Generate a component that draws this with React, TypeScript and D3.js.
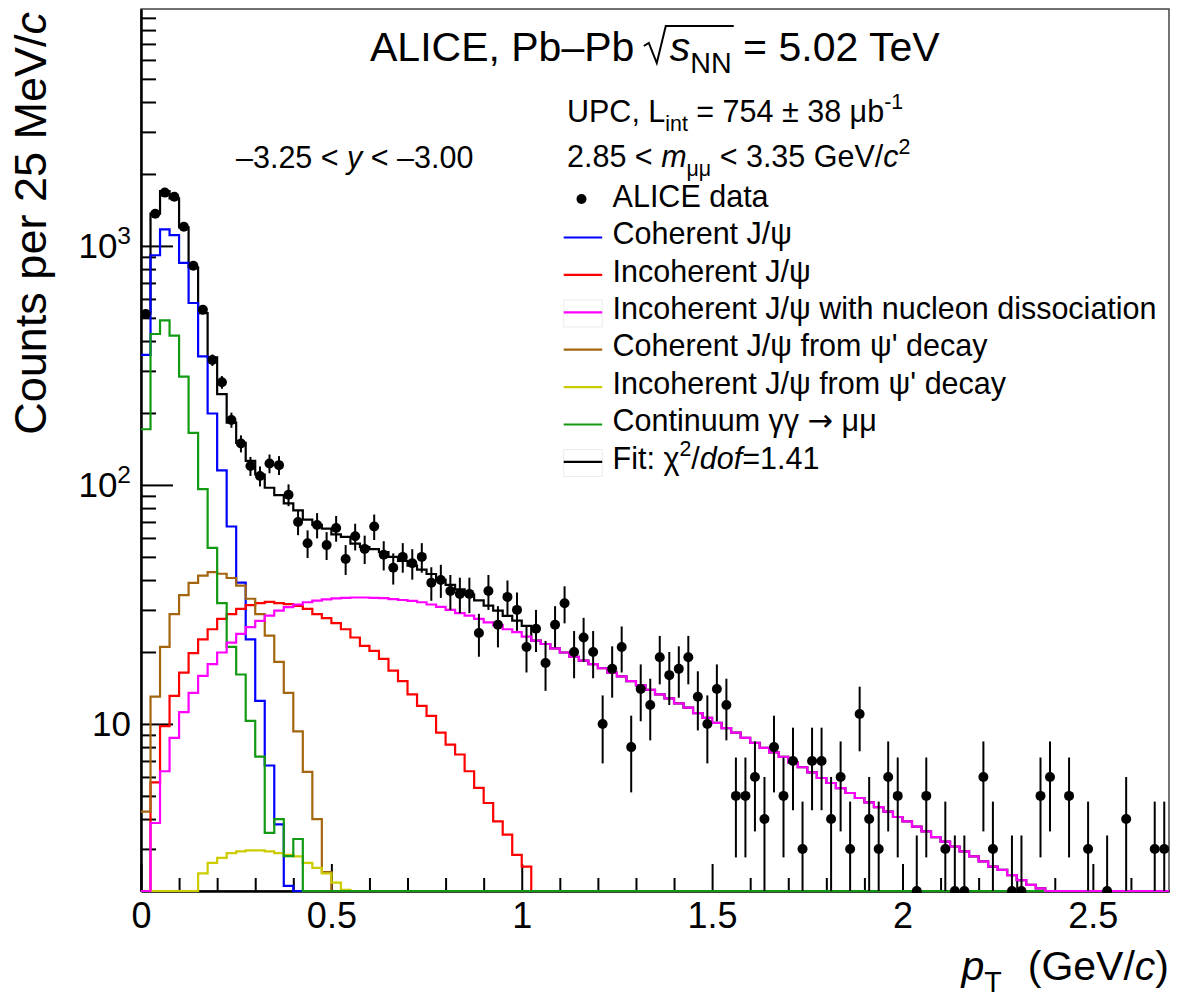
import { useEffect, useRef } from 'react';
import * as d3 from 'd3';

const WIDTH = 1182;
const HEIGHT = 1003;
const frame = { left: 141, right: 1169, top: 9, bottom: 891 };

// pT binning: 25 MeV/c bins from 0 to 2.7 GeV/c
const binWidth = 0.025;
const ptRange = [0, 2.7];
const countRange = [2, 9800];

// measured counts per bin
const dataCounts = [
  519, 1364, 1671, 1607, 1203, 826, 541, 333, 269, 187,
  149, 120, 109, 123, 121, 91, 70, 57, 68, 56,
  66, 49, 61, 54, 67, 51, 45, 50, 47, 50,
  39, 40, 36, 35, 35, 24, 36, 26, 34, 30,
  21, 25, 18, 26, 32, 20, 23, 20, 10, 17,
  21, 8, 14, 12, 19, 16, 17, 19, 13, 10,
  14, 12, 5, 5, 6, 4, 8, 5, 7, 3,
  7, 7, 4, 6, 3, 11, 4, 3, 6, 5,
  0, 2, 5, 0, 3, 2, 2, 0, 6, 3,
  0, 2, 2, 0, 5, 6, 0, 5, 0, 3,
  0, 2, 0, 4, 0, 0, 3, 3,
];

// fitted templates (bins not listed are empty)
const coherentJpsi = [350, 914, 1172, 1109, 849, 577, 345, 199, 115, 67, 39, 22.6, 12.5, 6.7, 3.8, 2.1];
const incoherentJpsi = [
  0, 5.7, 9.8, 13.1, 16.4, 19.8, 22.6, 24.9, 27.5, 28.8,
  30.3, 31.4, 32.0, 32.4, 32.0, 31.7, 31.2, 30.3, 28.8, 27.7,
  26.4, 24.9, 23.0, 21.2, 20.2, 18.7, 16.7, 15.1, 13.3, 11.9,
  10.8, 9.2, 8.2, 7.45, 6.34, 5.4, 4.67, 3.91, 3.44, 2.83, 2.53,
];
const dissociativeJpsi = [
  0, 3.85, 6.34, 8.75, 11.2, 13.5, 15.9, 17.8, 19.9, 21.9,
  23.8, 25.4, 27.0, 28.4, 29.8, 30.8, 31.6, 32.3, 32.8, 33.2,
  33.5, 33.7, 33.8, 33.8, 33.7, 33.6, 33.3, 33.0, 32.7, 32.3,
  31.6, 30.9, 30.0, 29.1, 28.4, 27.5, 26.6, 25.9, 24.9, 24.2,
  23.2, 22.3, 21.6, 20.7, 19.9, 19.1, 18.4, 17.8, 17.1, 16.4,
  15.8, 15.1, 14.5, 13.9, 13.3, 12.8, 12.2, 11.7, 11.1, 10.6,
  10.1, 9.6, 9.2, 8.75, 8.34, 7.94, 7.61, 7.28, 6.91, 6.59,
  6.27, 5.94, 5.66, 5.39, 5.14, 4.9, 4.7, 4.49, 4.3, 4.08,
  3.91, 3.72, 3.55, 3.36, 3.22, 3.07, 2.93, 2.79, 2.66, 2.53,
  2.45, 2.33, 2.22, 2.12, 2.05,
];
const coherentFeedDown = [
  4.3, 13.0, 21.0, 28.8, 34.6, 38.9, 41.7, 43.2, 42.5, 40.8,
  37.9, 33.4, 28.8, 23.4, 18.2, 13.5, 9.3, 6.3, 4.0, 2.4,
];
const incoherentFeedDown = [
  0, 0, 0, 0, 0, 0, 2.37, 2.62, 2.75, 2.88,
  2.93, 2.96, 2.96, 2.93, 2.88, 2.83, 2.79, 2.62, 2.5, 2.37,
  2.17, 2.02,
];
const continuum = [171, 428, 488, 421, 284, 165, 96, 54.5, 32, 21, 16.1, 10.3, 7.3, 3.5, 4.0, 2.8, 3.3];

const xMajorTicks = [0, 0.5, 1, 1.5, 2, 2.5];
const xTickLabels = ['0', '0.5', '1', '1.5', '2', '2.5'];
const yMajorTicks = [10, 100, 1000];
const yTickExponents = ['', '2', '3'];

type Part = { t: string; it?: boolean; sub?: boolean; sup?: boolean; dx?: number; font?: string };

function richText(parent: any, x: number, y: number, fs: number, parts: Part[], anchor = 'start') {
  const text = parent
    .append('text')
    .attr('x', x)
    .attr('y', y)
    .attr('font-size', fs)
    .attr('text-anchor', anchor)
    .attr('fill', '#000');
  let shift = 0;
  parts.forEach((p) => {
    const target = p.sub ? fs * 0.3 : p.sup ? -fs * 0.42 : 0;
    const ts = text.append('tspan').text(p.t).attr('dy', target - shift);
    if (p.sub || p.sup) ts.attr('font-size', fs * 0.7);
    if (p.it) ts.attr('font-style', 'italic');
    if (p.dx) ts.attr('dx', p.dx);
    if (p.font) ts.attr('font-family', p.font);
    shift = target;
  });
  return text;
}

function App() {
  const svgRef = useRef<SVGSVGElement>(null);

  const createGraph = () => {
    const svg = d3.select(svgRef.current);
    svg.selectAll('*').remove();

    const nBins = Math.round((ptRange[1] - ptRange[0]) / binWidth);
    const full = (arr: number[]) => d3.range(nBins).map((i) => arr[i] ?? 0);

    const x = d3.scaleLinear().domain(ptRange).range([frame.left, frame.right]);
    const y = d3.scaleLog().domain(countRange).range([frame.bottom, frame.top]);
    const yc = (v: number) => y(Math.max(v, countRange[0]));

    svg.append('rect').attr('width', WIDTH).attr('height', HEIGHT).attr('fill', '#fff');

    svg
      .append('defs')
      .append('clipPath')
      .attr('id', 'plot-area')
      .append('rect')
      .attr('x', frame.left)
      .attr('y', frame.top - 2)
      .attr('width', frame.right - frame.left)
      .attr('height', frame.bottom - frame.top + 4);

    // frame
    svg
      .append('rect')
      .attr('x', frame.left)
      .attr('y', frame.top)
      .attr('width', frame.right - frame.left)
      .attr('height', frame.bottom - frame.top)
      .attr('fill', 'none')
      .attr('stroke', '#444')
      .attr('stroke-width', 1.5);

    // axes, ticks pointing into the frame
    const styleAxis = (g: any) => {
      g.selectAll('path').attr('stroke', '#000').attr('stroke-width', 2);
      g.selectAll('line').attr('stroke', '#000').attr('stroke-width', 2);
    };

    const xMinor = d3.range(0, 27).map((k) => k / 10).filter((v) => !xMajorTicks.includes(v));
    svg
      .append('g')
      .attr('transform', `translate(0, ${frame.bottom})`)
      .call(d3.axisBottom(x).tickValues(xMinor).tickSize(-13).tickSizeOuter(0).tickFormat(() => ''))
      .call(styleAxis);
    svg
      .append('g')
      .attr('transform', `translate(0, ${frame.bottom})`)
      .call(
        d3
          .axisBottom(x)
          .tickValues(xMajorTicks)
          .tickSize(-27)
          .tickSizeOuter(0)
          .tickPadding(11)
          .tickFormat((_, i) => xTickLabels[i]),
      )
      .call(styleAxis)
      .call((g: any) =>
        g.selectAll('text').attr('font-size', 36).attr('font-family', 'Liberation Sans').attr('fill', '#000'),
      );

    const yMinor: number[] = [];
    [1, 10, 100, 1000].forEach((dec) => {
      for (let k = 2; k <= 9; k++) {
        const v = k * dec;
        if (v > countRange[0] && v < countRange[1]) yMinor.push(v);
      }
    });
    svg
      .append('g')
      .attr('transform', `translate(${frame.left}, 0)`)
      .call(d3.axisLeft(y).tickValues(yMinor).tickSize(-15).tickSizeOuter(0).tickFormat(() => ''))
      .call(styleAxis);
    svg
      .append('g')
      .attr('transform', `translate(${frame.left}, 0)`)
      .call(d3.axisLeft(y).tickValues(yMajorTicks).tickSize(-32).tickSizeOuter(0).tickFormat(() => ''))
      .call(styleAxis);

    yMajorTicks.forEach((v, i) => {
      const parts: Part[] = [{ t: '10' }];
      if (yTickExponents[i]) parts.push({ t: yTickExponents[i], sup: true });
      richText(svg, 131, y(v) + 12.5, 35, parts, 'end');
    });

    // axis titles
    richText(svg, 1169, 980, 41, [
      { t: 'p', it: true },
      { t: 'T', sub: true },
      { t: '(GeV/', dx: 26 },
      { t: 'c', it: true },
      { t: ')' },
    ], 'end');

    richText(svg, 0, 0, 45, [{ t: 'Counts per 25 MeV/' }, { t: 'c', it: true }], 'end').attr(
      'transform',
      'translate(46, 12) rotate(-90)',
    );

    // histograms
    const step = d3
      .line<number>()
      .x((_, i) => x(ptRange[0] + i * binWidth))
      .y((v) => yc(v))
      .curve(d3.curveStepAfter);

    const components = [
      { values: full(coherentJpsi), color: '#0000ff', label: [{ t: 'Coherent J/ψ' }] },
      { values: full(incoherentJpsi), color: '#ff0000', label: [{ t: 'Incoherent J/ψ' }] },
      {
        values: full(dissociativeJpsi),
        color: '#ff00ff',
        label: [{ t: 'Incoherent J/ψ with nucleon dissociation' }],
        box: true,
      },
      { values: full(coherentFeedDown), color: '#a3660f', label: [{ t: "Coherent J/ψ from ψ' decay" }] },
      { values: full(incoherentFeedDown), color: '#cccc00', label: [{ t: "Incoherent J/ψ from ψ' decay" }] },
      {
        values: full(continuum),
        color: '#129a12',
        label: [{ t: 'Continuum γγ ' }, { t: '→', font: 'DejaVu Sans' }, { t: ' μμ' }],
      },
    ];

    // total fit is the sum of all templates
    const fitTotal = d3.range(nBins).map((i) => d3.sum(components, (c) => c.values[i]));

    const plot = svg.append('g').attr('clip-path', 'url(#plot-area)');
    const drawHist = (vals: number[], color: string) => {
      plot
        .append('path')
        .attr('d', step([...vals, vals[vals.length - 1]]))
        .attr('fill', 'none')
        .attr('stroke', color)
        .attr('stroke-width', 2.2);
    };
    drawHist(fitTotal, '#000');
    [0, 1, 3, 4, 5, 2].forEach((k) => drawHist(components[k].values, components[k].color));

    // data points with Poisson errors
    const points = dataCounts
      .map((n, i) => ({ pt: ptRange[0] + (i + 0.5) * binWidth, n }))
      .filter((d) => d.n >= countRange[0]);
    plot
      .selectAll('line.err')
      .data(points)
      .join('line')
      .attr('class', 'err')
      .attr('x1', (d) => x(d.pt))
      .attr('x2', (d) => x(d.pt))
      .attr('y1', (d) => yc(d.n - Math.sqrt(d.n)))
      .attr('y2', (d) => yc(d.n + Math.sqrt(d.n)))
      .attr('stroke', '#000')
      .attr('stroke-width', 2);
    plot
      .selectAll('circle.pt')
      .data(points)
      .join('circle')
      .attr('class', 'pt')
      .attr('cx', (d) => x(d.pt))
      .attr('cy', (d) => y(d.n))
      .attr('r', 5)
      .attr('fill', '#000');

    // title and labels
    const title = richText(svg, 370, 61, 41, [
      { t: 'ALICE, Pb–Pb ' },
      { t: 's', it: true, dx: 24 },
      { t: 'NN', sub: true },
      { t: ' = 5.02 TeV' },
    ]);
    const tn = title.node() as SVGTextElement;
    const sBox = tn.getExtentOfChar(13);
    const nBox = tn.getExtentOfChar(15);
    const xs = sBox.x;
    const xe = nBox.x + nBox.width;
    svg
      .append('path')
      .attr(
        'd',
        `M${xs - 26},${61 - 15} L${xs - 21},${61 - 18} L${xs - 13},${61 + 2} L${xs - 4},${61 - 35} L${xe + 2},${61 - 35}`,
      )
      .attr('fill', 'none')
      .attr('stroke', '#000')
      .attr('stroke-width', 2);

    richText(svg, 567, 121.7, 30.5, [
      { t: 'UPC, L' },
      { t: 'int', sub: true },
      { t: ' = 754 ± 38 μb' },
      { t: '-1', sup: true },
    ]);
    richText(svg, 567, 166.7, 30.5, [
      { t: '2.85 < ' },
      { t: 'm', it: true },
      { t: 'μμ', sub: true },
      { t: ' < 3.35 GeV/' },
      { t: 'c', it: true },
      { t: '2', sup: true },
    ]);
    richText(svg, 236, 168, 30.5, [{ t: '–3.25 < ' }, { t: 'y', it: true }, { t: ' < –3.00' }]);

    // legend
    const legendTop = 206.7;
    const rowStep = 37.4;
    const legend = svg.append('g');
    legend.append('circle').attr('cx', 581.5).attr('cy', legendTop - 7.7).attr('r', 5).attr('fill', '#000');
    richText(legend, 612.6, legendTop, 30.5, [{ t: 'ALICE data' }]);

    const rows = [
      ...components.map((c) => ({ color: c.color, label: c.label as Part[], box: !!(c as any).box })),
      {
        color: '#000',
        label: [{ t: 'Fit: χ' }, { t: '2', sup: true }, { t: '/' }, { t: 'dof', it: true }, { t: '=1.41' }] as Part[],
        box: true,
      },
    ];
    rows.forEach((r, i) => {
      const base = legendTop + (i + 1) * rowStep;
      if (r.box) {
        legend
          .append('rect')
          .attr('x', 563.7)
          .attr('y', base - 19)
          .attr('width', 38.5)
          .attr('height', 27)
          .attr('fill', 'none')
          .attr('stroke', '#ececec')
          .attr('stroke-width', 1);
      }
      legend
        .append('line')
        .attr('x1', 563.7)
        .attr('x2', 602.2)
        .attr('y1', base - 6.6)
        .attr('y2', base - 6.6)
        .attr('stroke', r.color)
        .attr('stroke-width', 2.2);
      richText(legend, 612.6, base, 30.5, r.label);
    });
  };

  useEffect(() => {
    createGraph();
  }, []);

  return (
    <svg
      ref={svgRef}
      width={WIDTH}
      height={HEIGHT}
      style={{ position: 'absolute', left: 0, top: 0, fontFamily: 'Liberation Sans, Arial, sans-serif' }}
    />
  );
}

export default App;
